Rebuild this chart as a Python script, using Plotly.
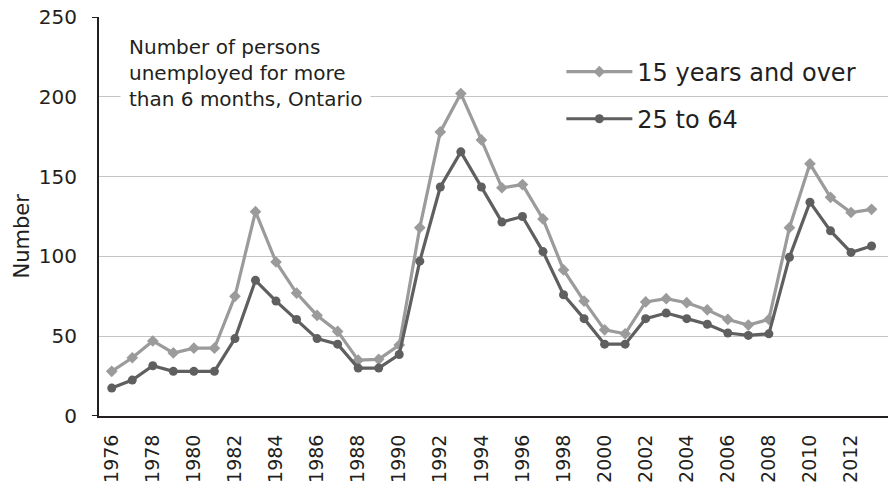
import plotly.graph_objects as go

years = list(range(1976, 2014))
age_15_over = [28, 36.5, 47, 39.5, 42.5, 42.5, 75, 128, 96.5, 77, 63, 53, 35, 35.5, 44.5,
               118, 178, 202, 173, 143, 145, 123.5, 91.5, 72, 54, 51.5, 71.5, 73.5, 71, 66.5,
               60.5, 57, 60.5, 118, 158, 137, 127.5, 129.5]
age_25_64 = [17.5, 22.5, 31.5, 28, 28, 28, 48.5, 85, 72, 60.5, 48.5, 45, 30, 30, 38.5,
             97, 143.5, 165.5, 143.5, 121.5, 125, 103, 76, 61, 45, 45, 61, 64.5, 61, 57.5,
             52, 50.5, 51.5, 99.5, 134, 116, 102.5, 106.5]
x_ticks = list(range(1976, 2013, 2))
y_ticks = [0, 50, 100, 150, 200, 250]

FONT = "DejaVu Sans"
TXT = "#231f20"
LIGHT = "#9b9b9b"
DARK = "#5f5f5f"

fig = go.Figure()
fig.add_trace(go.Scatter(
    x=years, y=age_15_over, mode="lines+markers", name="15 years and over",
    line=dict(color=LIGHT, width=3.2),
    marker=dict(symbol="diamond", size=9, color=LIGHT),
    legend="legend"))
fig.add_trace(go.Scatter(
    x=years, y=age_25_64, mode="lines+markers", name="25 to 64",
    line=dict(color=DARK, width=3.2),
    marker=dict(symbol="circle", size=9, color=DARK),
    legend="legend2"))

fig.update_layout(
    width=889, height=487,
    margin=dict(l=99, r=1, t=17, b=71),
    paper_bgcolor="white", plot_bgcolor="white",
    font=dict(family=FONT, color=TXT),
    xaxis=dict(range=[1975.38, 2013.8], tickvals=x_ticks, ticktext=[str(t) for t in x_ticks],
               tickangle=-90, tickfont=dict(size=19, color=TXT), showgrid=False,
               showline=True, linecolor="#231f20", linewidth=2, zeroline=False,
               ticks="outside", ticklen=9, tickcolor="rgba(0,0,0,0)", automargin=False),
    yaxis=dict(range=[0, 250], tickvals=y_ticks, tickfont=dict(size=20, color=TXT),
               showgrid=True, gridcolor="#c4c4c4", gridwidth=1.3,
               showline=True, linecolor="#231f20", linewidth=2, zeroline=False,
               ticks="outside", ticklen=16, tickcolor="rgba(0,0,0,0)",
               automargin=False),
    legend=dict(x=0.586, y=0.862, xanchor="left", yanchor="middle", itemwidth=66,
                font=dict(size=24, color=TXT), bgcolor="rgba(0,0,0,0)"),
    legend2=dict(x=0.586, y=0.744, xanchor="left", yanchor="middle", itemwidth=66,
                 font=dict(size=24, color=TXT), bgcolor="rgba(0,0,0,0)"),
    showlegend=True,
)

# small stubs at the ends of the value axis
for yv in (y_ticks[0], y_ticks[-1]):
    fig.add_shape(type="line", xref="paper", yref="y", x0=-0.009, x1=0, y0=yv, y1=yv,
                  line=dict(color="#231f20", width=2))

fig.add_annotation(
    xref="paper", yref="paper", x=-0.097, y=0.451, xanchor="center", yanchor="middle",
    text="Number", textangle=-90, showarrow=False,
    font=dict(size=21, color=TXT, family=FONT))

fig.add_annotation(
    xref="paper", yref="paper", x=0.026, y=0.977, xanchor="left", yanchor="top",
    text="Number of persons<br>unemployed for more<br>than 6 months, Ontario",
    showarrow=False, align="left", bgcolor="white", borderpad=8,
    font=dict(size=20, color=TXT, family=FONT))

fig.write_html("out.html", config={"displayModeBar": False},
               post_script="document.body.style.margin='0';document.body.style.overflow='hidden';")
